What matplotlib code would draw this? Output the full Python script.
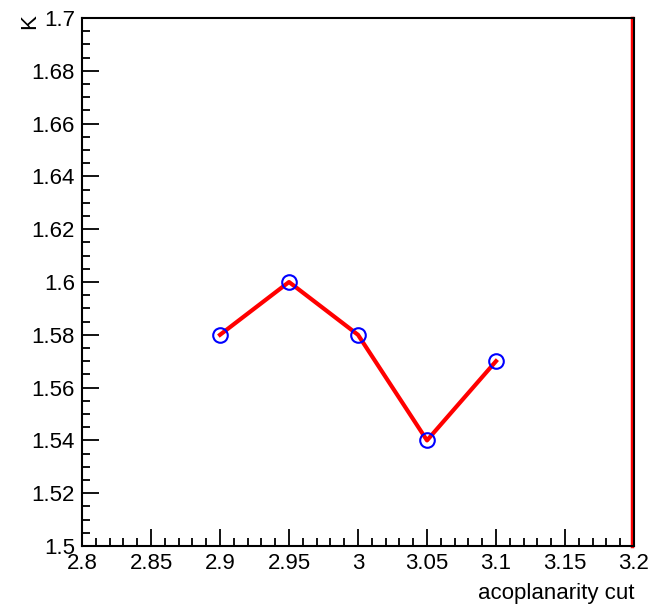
import numpy as np
import matplotlib
matplotlib.use("Agg")
import matplotlib.pyplot as plt
import matplotlib.transforms as mtransforms
from matplotlib.ticker import MultipleLocator

# acoplanarity cut scan
cut = [2.9, 2.95, 3.0, 3.05, 3.1]
kval = [1.58, 1.60, 1.58, 1.54, 1.57]

x_ticks = [2.8, 2.85, 2.9, 2.95, 3.0, 3.05, 3.1, 3.15, 3.2]
x_labels = ["2.8", "2.85", "2.9", "2.95", "3", "3.05", "3.1", "3.15", "3.2"]
y_ticks = [1.5, 1.52, 1.54, 1.56, 1.58, 1.6, 1.62, 1.64, 1.66, 1.68, 1.7]
y_labels = ["1.5", "1.52", "1.54", "1.56", "1.58", "1.6", "1.62", "1.64", "1.66", "1.68", "1.7"]

plt.rcParams["font.family"] = ["Liberation Sans", "DejaVu Sans"]

fig = plt.figure(figsize=(6.54, 6.09), dpi=100)
ax = fig.add_axes([82 / 654, 1 - 546 / 609, (634 - 82) / 654, (546 - 18) / 609])

ax.plot(cut, kval, color="red", lw=3, zorder=2)
ax.plot(cut, kval, ls="none", marker="o", ms=10.5, mfc="none", mec="blue", mew=1.5, zorder=3)

# red edge line, drawn just inside the right frame
shift = mtransforms.offset_copy(ax.transData, fig=fig, x=-2.0, y=0, units="dots")
ax.plot([3.2, 3.2], [1.5, 1.7], color="red", lw=2.5, transform=shift, clip_on=False, zorder=2)

ax.set_xlim(2.8, 3.2)
ax.set_ylim(1.5, 1.7)
ax.set_xticks(x_ticks)
ax.set_xticklabels(x_labels)
ax.set_yticks(y_ticks)
ax.set_yticklabels(y_labels)
ax.xaxis.set_minor_locator(MultipleLocator(0.01))
ax.yaxis.set_minor_locator(MultipleLocator(0.005))
ax.tick_params(which="major", direction="in", length=12, width=1.3, labelsize=16, pad=5)
ax.tick_params(which="minor", direction="in", length=6, width=1.3)
ax.tick_params(top=False, right=False, which="both")
for s in ax.spines.values():
    s.set_linewidth(1.5)

fig.text(634 / 654, 1 - 594 / 609, "acoplanarity cut", ha="right", va="center", fontsize=16)
fig.text(30 / 654, 1 - 22 / 609, "K", ha="center", va="center", fontsize=16, rotation=90)

fig.savefig("out.png", dpi=100)
